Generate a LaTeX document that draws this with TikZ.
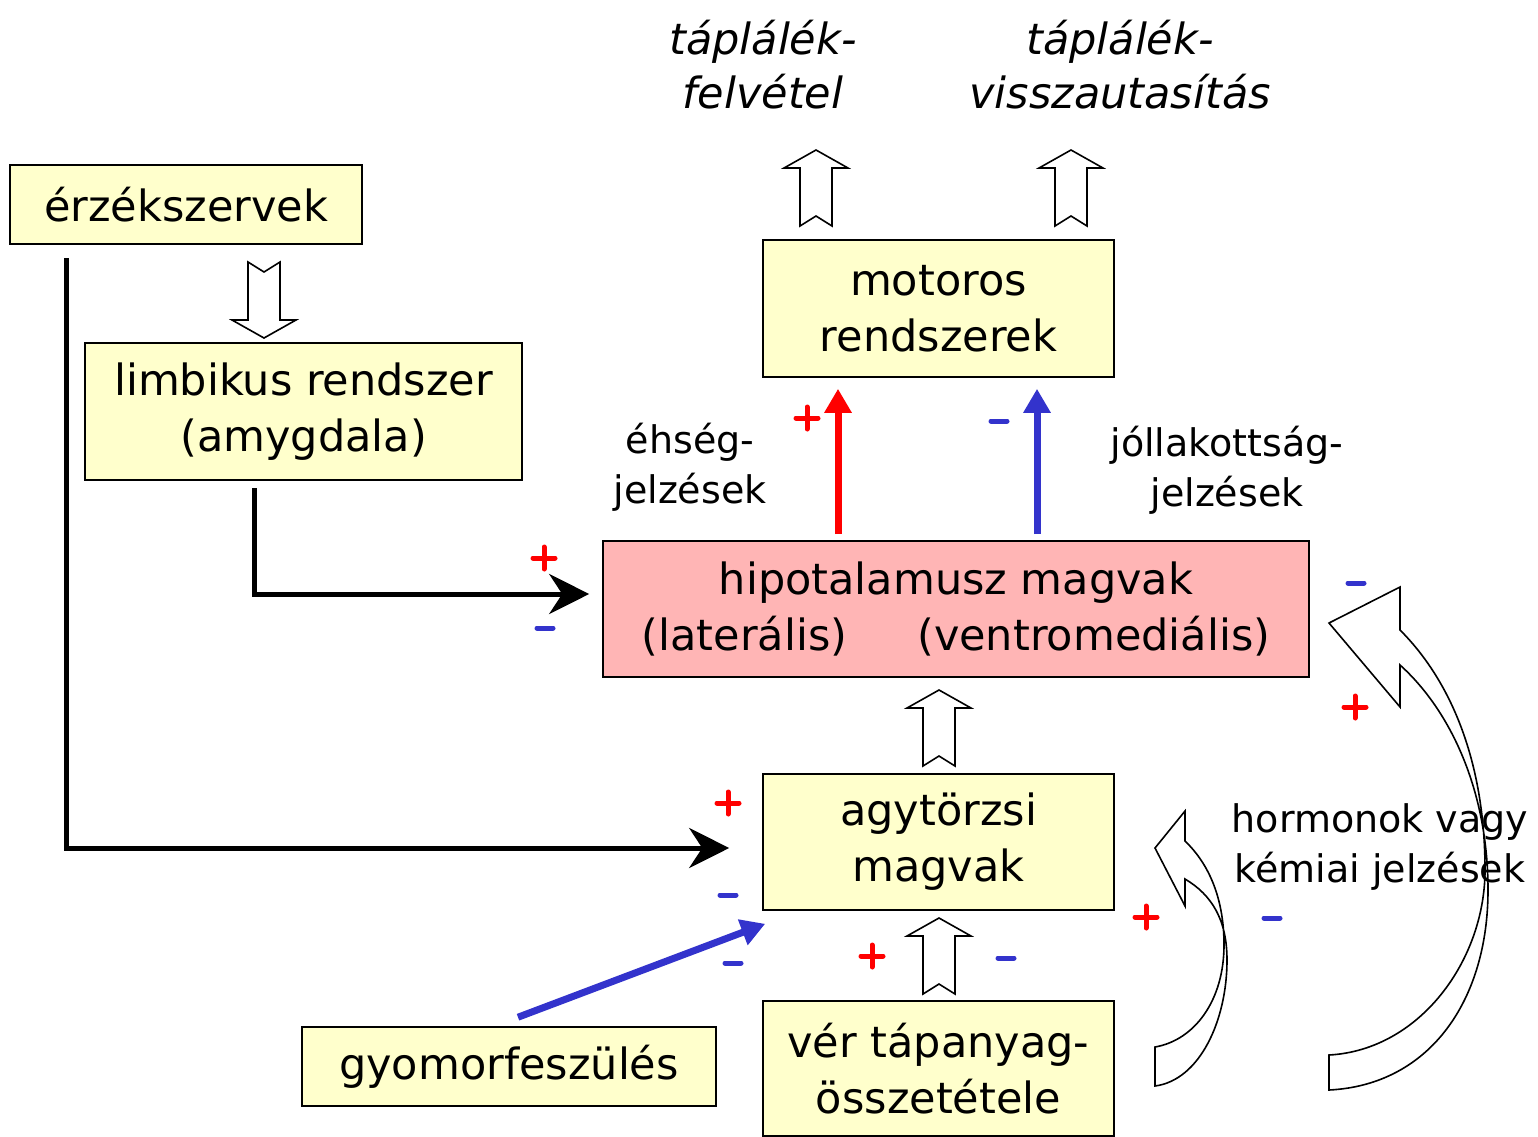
\documentclass[tikz,border=0pt]{standalone}
\usepackage{fontspec}
\setmainfont{DejaVu Sans}
\usetikzlibrary{arrows.meta,positioning}

\definecolor{boxyellow}{HTML}{FFFFCC}
\definecolor{hypopink}{HTML}{FFB5B5}
\definecolor{sigblue}{HTML}{3333CC}

\begin{document}
\begin{tikzpicture}[x=1pt,y=-1pt,
  box/.style={draw,line width=1.6pt,fill=boxyellow,align=center,inner sep=0pt,
    font=\fontsize{43}{56}\selectfont},
  lbl/.style={align=center,font=\fontsize{38}{50}\selectfont},
  topic/.style={align=center,font=\fontsize{43}{54}\selectfont\itshape},
  feed/.style={line width=5pt,-{Stealth[length=40pt,width=40pt]}},
  sig/.style={line width=7pt,-{Triangle[length=24pt,width=26pt]}},
  hollow/.style={draw,line width=1.6pt,fill=white},
  plus/.pic={\draw[red,line width=5pt,line cap=round] (-11,0) -- (11,0) (0,-11) -- (0,11);},
  minus/.pic={\draw[sigblue,line width=5pt,line cap=round] (-8,0) -- (8,0);},
  upblock/.pic={\draw[hollow] (0,0) -- (32,18) -- (16,18) -- (16,76) -- (0,66)
    -- (-16,76) -- (-16,18) -- (-32,18) -- cycle;}]
  \useasboundingbox (0,0) rectangle (1538,1136);

  % boxes
  \node[box,minimum width=352pt,minimum height=79pt] (erzek) at (186,204.5) {érzékszervek};
  \node[box,minimum width=437pt,minimum height=137pt] (limbik) at (303.5,411.5) {limbikus rendszer\\(amygdala)};
  \node[box,minimum width=351pt,minimum height=137pt] (motor) at (938.5,308.5) {motoros\\rendszerek};
  \node[box,fill=hypopink,minimum width=706pt,minimum height=136pt] (hipot) at (956,609)
    {hipotalamusz magvak\\(laterális)\hspace{70pt}(ventromediális)};
  \node[box,minimum width=351pt,minimum height=136pt] (agyt) at (938.5,842) {agytörzsi\\magvak};
  \node[box,minimum width=414pt,minimum height=79pt] (gyomor) at (509,1066.5) {gyomorfeszülés};
  \node[box,minimum width=351pt,minimum height=135pt] (ver) at (938.5,1068.5) {vér tápanyag-\\összetétele};

  % hollow arrows
  \pic at (816,150) {upblock};
  \pic at (1071,150) {upblock};
  \pic[rotate=180] at (264,338) {upblock};
  \pic at (939,690) {upblock};
  \pic at (939,918) {upblock};

  % curved feedback arrows
  \draw[hollow] (1329,623) -- (1400,587) -- (1400,630)
    .. controls (1450,680) and (1485,760) .. (1485,870)
    .. controls (1485,960) and (1420,1050) .. (1329,1055) -- (1329,1090)
    .. controls (1430,1085) and (1488,1000) .. (1488,890)
    .. controls (1488,790) and (1450,710) .. (1400,665) -- (1400,707) -- cycle;
  \draw[hollow] (1155,848) -- (1185,811) -- (1185,841)
    .. controls (1210,865) and (1224,900) .. (1224,945)
    .. controls (1224,1000) and (1195,1040) .. (1155,1047) -- (1155,1086)
    .. controls (1200,1080) and (1227,1020) .. (1227,960)
    .. controls (1227,920) and (1212,895) .. (1185,879) -- (1185,906) -- cycle;

  % texts
  \node[topic] (felvetel) at (763,65) {táplálék-\\felvétel};
  \node[topic] (elutasit) at (1120,65) {táplálék-\\visszautasítás};
  \node[lbl] (ehseg) at (690,467) {éhség-\\jelzések};
  \node[lbl] (jollak) at (1227,470) {jóllakottság-\\jelzések};
  \node[lbl] (hormon) at (1380,847) {hormonok vagy\\kémiai jelzések};

  % connectors
  \coordinate (erzekout) at (66,258);
  \coordinate (limbout) at (254,488);
  \draw[feed] (erzekout) |- ([shift={(-33,6)}]agyt.west);
  \draw[feed] (limbout) |- ([shift={(-13,-15)}]hipot.west);
  \draw[sig,red] ([shift={(-118,-6)}]hipot.north) -- ([shift={(-100.5,11)}]motor.south);
  \draw[sig,sigblue] ([shift={(81,-6)}]hipot.north) -- ([shift={(98.5,11)}]motor.south);
  \draw[sig,sigblue] ([shift={(9,-9)}]gyomor.north) -- ([shift={(3,13)}]agyt.south west);

  % signs
  \pic at (807,418) {plus};   \pic at (999,421) {minus};
  \pic at (544,558) {plus};   \pic at (545,628) {minus};
  \pic at (728,803) {plus};   \pic at (728,895) {minus};
  \pic at (733,963) {minus};
  \pic at (872,956) {plus};   \pic at (1006,958) {minus};
  \pic at (1146,917) {plus};  \pic at (1272,918) {minus};
  \pic at (1356,583) {minus}; \pic at (1355,707) {plus};
\end{tikzpicture}
\end{document}
